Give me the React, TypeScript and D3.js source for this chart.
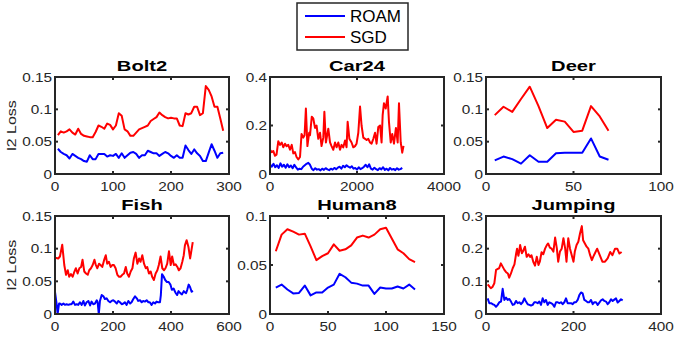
import React from 'react';
import * as d3 from 'd3';

// ---- data ----
const seriesNames = ['ROAM', 'SGD'];

const bolt2Sgd = [0.060, 0.066, 0.064, 0.066, 0.069, 0.064, 0.061, 0.070, 0.062, 0.059, 0.058, 0.057, 0.057, 0.065, 0.075,
  0.073, 0.070, 0.078, 0.076, 0.069, 0.075, 0.094, 0.090, 0.069, 0.066, 0.059, 0.059, 0.064, 0.069, 0.071, 0.073, 0.075,
  0.082, 0.085, 0.088, 0.095, 0.091, 0.088, 0.086, 0.087, 0.086, 0.086, 0.075, 0.074, 0.094, 0.092, 0.094, 0.104, 0.104,
  0.091, 0.094, 0.136, 0.130, 0.120, 0.104, 0.104, 0.086, 0.067];
const bolt2Roam = [0.039, 0.034, 0.031, 0.029, 0.024, 0.031, 0.028, 0.025, 0.023, 0.020, 0.019, 0.029, 0.023, 0.023, 0.031,
  0.031, 0.031, 0.027, 0.029, 0.028, 0.031, 0.025, 0.032, 0.025, 0.029, 0.033, 0.034, 0.031, 0.025, 0.029, 0.029, 0.036,
  0.034, 0.032, 0.032, 0.028, 0.031, 0.034, 0.032, 0.028, 0.025, 0.029, 0.025, 0.025, 0.044, 0.037, 0.031, 0.038, 0.032,
  0.028, 0.020, 0.020, 0.033, 0.046, 0.036, 0.025, 0.032, 0.033];

const car24SgdFrames = [0, 40, 75, 115, 150, 190, 230, 270, 305, 345, 380, 420, 460, 500, 535, 575, 610, 650, 690, 725,
  765, 795, 825, 860, 900, 920, 960, 995, 1035, 1070, 1110, 1150, 1185, 1225, 1250, 1285, 1340, 1380, 1415, 1455, 1495,
  1530, 1570, 1610, 1645, 1685, 1725, 1760, 1785, 1825, 1875, 1915, 1955, 1990, 2030, 2070, 2105, 2145, 2185, 2220, 2260,
  2300, 2335, 2375, 2415, 2450, 2490, 2530, 2565, 2590, 2620, 2660, 2705, 2735, 2775, 2810, 2850, 2895, 2935, 2965, 3005,
  3040, 3070];
const car24Sgd = [0.10, 0.09, 0.095, 0.075, 0.08, 0.135, 0.12, 0.13, 0.11, 0.125, 0.115, 0.12, 0.10, 0.12, 0.085, 0.09,
  0.07, 0.06, 0.07, 0.165, 0.15, 0.16, 0.27, 0.115, 0.17, 0.16, 0.236, 0.229, 0.19, 0.20, 0.145, 0.17, 0.115, 0.15, 0.257,
  0.13, 0.187, 0.13, 0.115, 0.10, 0.13, 0.11, 0.13, 0.10, 0.12, 0.11, 0.138, 0.11, 0.215, 0.145, 0.13, 0.11, 0.115, 0.125,
  0.17, 0.278, 0.20, 0.15, 0.145, 0.14, 0.145, 0.13, 0.125, 0.145, 0.17, 0.125, 0.194, 0.20, 0.13, 0.243, 0.292, 0.27,
  0.32, 0.215, 0.13, 0.165, 0.125, 0.19, 0.13, 0.292, 0.13, 0.088, 0.116];
const car24Roam = [0.040, 0.030, 0.042, 0.028, 0.036, 0.025, 0.044, 0.030, 0.038, 0.026, 0.040, 0.028, 0.035, 0.024, 0.038,
  0.027, 0.018, 0.022, 0.020, 0.030, 0.036, 0.042, 0.046, 0.038, 0.022, 0.016, 0.024, 0.018, 0.020, 0.015, 0.022, 0.017,
  0.024, 0.019, 0.016, 0.022, 0.018, 0.025, 0.020, 0.026, 0.030, 0.022, 0.034, 0.028, 0.036, 0.030, 0.026, 0.032, 0.022,
  0.025, 0.018, 0.028, 0.020, 0.024, 0.030, 0.038, 0.028, 0.040, 0.022, 0.018, 0.026, 0.020, 0.016, 0.024, 0.019, 0.028,
  0.017, 0.022, 0.015, 0.025, 0.018, 0.021, 0.016, 0.024, 0.018, 0.020, 0.025];

const deerSgd = [0.091, 0.104, 0.096, 0.116, 0.135, 0.105, 0.071, 0.084, 0.081, 0.065, 0.067, 0.105, 0.089, 0.067];
const deerRoam = [0.021, 0.027, 0.023, 0.016, 0.029, 0.019, 0.019, 0.032, 0.033, 0.033, 0.033, 0.055, 0.027, 0.022];

const fishSgdFrames = [1, 11, 17, 25, 32, 38, 44, 49, 55, 61, 67, 72, 78, 84, 90, 95, 101, 107, 113, 118, 124, 130, 136,
  140, 146, 152, 157, 163, 169, 175, 180, 186, 192, 198, 203, 209, 215, 221, 226, 232, 238, 244, 249, 255, 261, 267, 272,
  278, 284, 290, 295, 301, 307, 313, 318, 324, 330, 335, 341, 347, 353, 358, 364, 370, 376, 381, 387, 393, 399, 404, 410,
  416, 422, 427, 433, 439, 444, 448, 454, 460, 466, 475];
const fishSgd = [0.086, 0.085, 0.088, 0.106, 0.075, 0.060, 0.067, 0.057, 0.061, 0.057, 0.065, 0.070, 0.062, 0.070, 0.072,
  0.083, 0.065, 0.062, 0.060, 0.067, 0.070, 0.075, 0.083, 0.076, 0.070, 0.077, 0.075, 0.072, 0.082, 0.090, 0.077, 0.080,
  0.072, 0.075, 0.075, 0.070, 0.060, 0.057, 0.057, 0.060, 0.062, 0.072, 0.062, 0.057, 0.065, 0.070, 0.085, 0.094, 0.077,
  0.085, 0.080, 0.090, 0.077, 0.070, 0.072, 0.062, 0.065, 0.057, 0.052, 0.062, 0.067, 0.075, 0.088, 0.070, 0.067, 0.070,
  0.077, 0.096, 0.075, 0.088, 0.075, 0.076, 0.072, 0.067, 0.070, 0.080, 0.090, 0.105, 0.113, 0.103, 0.085, 0.110];
const fishRoamFrames = [0, 6, 9, 14, 17, 23, 29, 34, 40, 46, 52, 57, 63, 69, 75, 80, 86, 92, 98, 103, 109, 115, 121, 126,
  132, 138, 144, 147, 151, 155, 161, 167, 172, 178, 184, 190, 195, 201, 207, 213, 218, 224, 230, 236, 241, 247, 253, 259,
  264, 270, 276, 282, 287, 293, 299, 304, 310, 316, 322, 327, 333, 339, 345, 350, 356, 362, 365, 369, 375, 380, 386, 392,
  398, 403, 409, 415, 421, 426, 432, 438, 444, 448, 452, 456, 461, 466, 471, 475];
const fishRoam = [0.034, 0.014, 0.0, 0.016, 0.016, 0.014, 0.016, 0.014, 0.015, 0.014, 0.015, 0.015, 0.019, 0.014, 0.015,
  0.014, 0.018, 0.014, 0.020, 0.013, 0.018, 0.020, 0.013, 0.019, 0.015, 0.016, 0.021, 0.018, 0.0, 0.020, 0.029, 0.027,
  0.023, 0.024, 0.020, 0.018, 0.020, 0.021, 0.019, 0.016, 0.020, 0.018, 0.015, 0.016, 0.018, 0.014, 0.020, 0.016, 0.018,
  0.023, 0.027, 0.024, 0.020, 0.021, 0.018, 0.020, 0.019, 0.021, 0.018, 0.018, 0.014, 0.018, 0.016, 0.019, 0.018, 0.018,
  0.029, 0.061, 0.057, 0.052, 0.049, 0.049, 0.045, 0.037, 0.039, 0.033, 0.029, 0.035, 0.032, 0.030, 0.035, 0.033, 0.032,
  0.037, 0.045, 0.041, 0.034, 0.036];

const human8Sgd = [0.064, 0.081, 0.0865, 0.084, 0.081, 0.082, 0.069, 0.055, 0.059, 0.062, 0.071, 0.0645, 0.066, 0.070,
  0.078, 0.080, 0.078, 0.081, 0.0865, 0.088, 0.077, 0.066, 0.062, 0.056, 0.053];
const human8Roam = [0.027, 0.030, 0.025, 0.021, 0.0215, 0.029, 0.019, 0.022, 0.022, 0.027, 0.030, 0.041, 0.0375, 0.032,
  0.031, 0.029, 0.029, 0.0205, 0.027, 0.026, 0.026, 0.028, 0.026, 0.030, 0.025];

const jumpingSgdFrames = [4, 8, 11, 15, 19, 23, 27, 30, 34, 38, 42, 46, 50, 53, 57, 61, 65, 69, 71, 74, 76, 78, 82, 85,
  89, 93, 97, 101, 104, 108, 112, 116, 120, 123, 127, 131, 135, 139, 142, 146, 150, 154, 158, 162, 165, 169, 173, 177,
  181, 184, 188, 192, 196, 200, 203, 207, 211, 215, 219, 222, 226, 230, 234, 238, 242, 245, 249, 254, 260, 266, 272,
  278, 284, 289, 295, 300, 305, 310];
const jumpingSgd = [0.091, 0.084, 0.079, 0.083, 0.094, 0.135, 0.138, 0.14, 0.155, 0.145, 0.135, 0.128, 0.124, 0.111,
  0.124, 0.14, 0.152, 0.186, 0.2, 0.178, 0.193, 0.211, 0.186, 0.193, 0.206, 0.175, 0.183, 0.175, 0.18, 0.16, 0.148,
  0.175, 0.15, 0.16, 0.189, 0.183, 0.2, 0.211, 0.216, 0.203, 0.2, 0.191, 0.234, 0.2, 0.16, 0.191, 0.2, 0.232, 0.2, 0.16,
  0.232, 0.2, 0.18, 0.16, 0.191, 0.211, 0.221, 0.247, 0.269, 0.226, 0.216, 0.206, 0.2, 0.18, 0.165, 0.175, 0.186, 0.2,
  0.18, 0.16, 0.16, 0.17, 0.19, 0.18, 0.2, 0.2, 0.185, 0.19];
const jumpingRoam = [0.048, 0.033, 0.033, 0.030, 0.028, 0.022, 0.028, 0.036, 0.038, 0.077, 0.043, 0.050, 0.043, 0.046,
  0.038, 0.028, 0.030, 0.040, 0.033, 0.036, 0.030, 0.036, 0.048, 0.038, 0.030, 0.028, 0.026, 0.028, 0.036, 0.036, 0.033,
  0.038, 0.028, 0.048, 0.036, 0.043, 0.028, 0.036, 0.033, 0.030, 0.022, 0.036, 0.036, 0.033, 0.036, 0.030, 0.036, 0.048,
  0.033, 0.033, 0.033, 0.030, 0.036, 0.036, 0.043, 0.058, 0.066, 0.063, 0.043, 0.040, 0.036, 0.036, 0.043, 0.030, 0.036,
  0.036, 0.028, 0.035, 0.042, 0.045, 0.040, 0.038, 0.030, 0.036, 0.045, 0.040, 0.044, 0.048, 0.035, 0.040, 0.045, 0.042];

const seq = (start: number, step: number, n: number) => d3.range(n).map(i => start + i * step);

type PanelDef = {
  title: string; col: number; row: number;
  xMax: number; xTicks: number[]; yMax: number; yTicks: number[];
  roamX: number[]; roam: number[]; sgdX: number[]; sgd: number[];
};

const panels: PanelDef[] = [
  { title: 'Bolt2', col: 0, row: 0, xMax: 300, xTicks: [0, 100, 200, 300], yMax: 0.15, yTicks: [0, 0.05, 0.1, 0.15],
    roamX: seq(5, 5, bolt2Roam.length), roam: bolt2Roam, sgdX: seq(5, 5, bolt2Sgd.length), sgd: bolt2Sgd },
  { title: 'Car24', col: 1, row: 0, xMax: 4000, xTicks: [0, 2000, 4000], yMax: 0.4, yTicks: [0, 0.2, 0.4],
    roamX: seq(0, 40, car24Roam.length), roam: car24Roam, sgdX: car24SgdFrames, sgd: car24Sgd },
  { title: 'Deer', col: 2, row: 0, xMax: 100, xTicks: [0, 50, 100], yMax: 0.15, yTicks: [0, 0.05, 0.1, 0.15],
    roamX: seq(5, 5, deerRoam.length), roam: deerRoam, sgdX: seq(5, 5, deerSgd.length), sgd: deerSgd },
  { title: 'Fish', col: 0, row: 1, xMax: 600, xTicks: [0, 200, 400, 600], yMax: 0.15, yTicks: [0, 0.05, 0.1, 0.15],
    roamX: fishRoamFrames, roam: fishRoam, sgdX: fishSgdFrames, sgd: fishSgd },
  { title: 'Human8', col: 1, row: 1, xMax: 150, xTicks: [0, 50, 100, 150], yMax: 0.1, yTicks: [0, 0.05, 0.1],
    roamX: seq(5, 5, human8Roam.length), roam: human8Roam, sgdX: seq(5, 5, human8Sgd.length), sgd: human8Sgd },
  { title: 'Jumping', col: 2, row: 1, xMax: 400, xTicks: [0, 200, 400], yMax: 0.3, yTicks: [0, 0.1, 0.2, 0.3],
    roamX: seq(3.81, 3.81, jumpingRoam.length), roam: jumpingRoam, sgdX: jumpingSgdFrames, sgd: jumpingSgd },
];

// ---- layout ----
const W = 677, H = 337;
const colX = [[55, 229], [270, 444], [486, 661]];
const rowY = [[77, 174], [216, 314]];
const AX = '#262626';
const FONT = '"Liberation Sans", Arial, Helvetica, sans-serif';
const STRETCH = 1.18;
const fmt = (v: number) => String(+v.toFixed(3));

const Panel = ({ p, idx }: { p: PanelDef; idx: number }) => {
  const [x0, x1] = colX[p.col];
  const [y0, y1] = rowY[p.row];
  const x = d3.scaleLinear().domain([0, p.xMax]).range([x0, x1]);
  const y = d3.scaleLinear().domain([0, p.yMax]).range([y1, y0]);
  const line = d3.line<[number, number]>().x(d => x(d[0])).y(d => y(d[1]));
  const roamPts = p.roam.map((v, i) => [p.roamX[i], v] as [number, number]);
  const sgdPts = p.sgd.map((v, i) => [p.sgdX[i], v] as [number, number]);
  const clipId = `clip${idx}`;
  const tl = 3;
  return (
    <g>
      <defs>
        <clipPath id={clipId}><rect x={x0} y={y0} width={x1 - x0} height={y1 - y0} /></clipPath>
      </defs>
      <g clipPath={`url(#${clipId})`}>
        <path d={line(sgdPts) || ''} fill="none" stroke="#ff0000" strokeWidth={2} strokeLinejoin="round" />
        <path d={line(roamPts) || ''} fill="none" stroke="#0000ff" strokeWidth={2} strokeLinejoin="round" />
      </g>
      <rect x={x0} y={y0} width={x1 - x0} height={y1 - y0} fill="none" stroke={AX} strokeWidth={2} />
      {p.xTicks.map(t => (
        <g key={'x' + t}>
          <line x1={x(t)} x2={x(t)} y1={y1} y2={y1 - tl} stroke={AX} strokeWidth={2} />
          <line x1={x(t)} x2={x(t)} y1={y0} y2={y0 + tl} stroke={AX} strokeWidth={2} />
          <text transform={`translate(${x(t)},${y1 + 16.5}) scale(${STRETCH},1)`} textAnchor="middle"
            fontSize={13} fill={AX} fontFamily={FONT}>{fmt(t)}</text>
        </g>
      ))}
      {p.yTicks.map(t => (
        <g key={'y' + t}>
          <line x1={x0} x2={x0 + tl} y1={y(t)} y2={y(t)} stroke={AX} strokeWidth={2} />
          <line x1={x1} x2={x1 - tl} y1={y(t)} y2={y(t)} stroke={AX} strokeWidth={2} />
          <text transform={`translate(${x0 - 3},${y(t) + 4.6}) scale(${STRETCH},1)`} textAnchor="end"
            fontSize={13} fill={AX} fontFamily={FONT}>{fmt(t)}</text>
        </g>
      ))}
      <text transform={`translate(${(x0 + x1) / 2},${y0 - 6.5}) scale(1.3,1)`} textAnchor="middle"
        fontSize={15.5} fontWeight="bold" fill="#000" fontFamily={FONT}>{p.title}</text>
      {p.col === 0 && (
        <text transform={`translate(16,${(y0 + y1) / 2}) rotate(-90) scale(${STRETCH},1)`} textAnchor="middle"
          fontSize={13.5} fill={AX} fontFamily={FONT}>l2 Loss</text>
      )}
    </g>
  );
};

const Legend = () => {
  const colors = ['#0000ff', '#ff0000'];
  const rows = [16, 37];
  return (
    <g>
      <rect x={297} y={3} width={111} height={47} fill="#fff" stroke={AX} strokeWidth={1.5} />
      {seriesNames.map((n, i) => (
        <g key={n}>
          <line x1={305} x2={345} y1={rows[i]} y2={rows[i]} stroke={colors[i]} strokeWidth={2} />
          <text x={350} y={rows[i] + 6} fontSize={17} fill="#000" fontFamily={FONT}>{n}</text>
        </g>
      ))}
    </g>
  );
};

export default function App() {
  return (
    <div style={{ position: 'absolute', left: 0, top: 0 }}>
      <style>{'body{margin:0}'}</style>
      <svg width={W} height={H} style={{ display: 'block', background: '#fff' }}>
        <rect width={W} height={H} fill="#fff" />
        {panels.map((p, i) => <Panel key={p.title} p={p} idx={i} />)}
        <Legend />
      </svg>
    </div>
  );
}
